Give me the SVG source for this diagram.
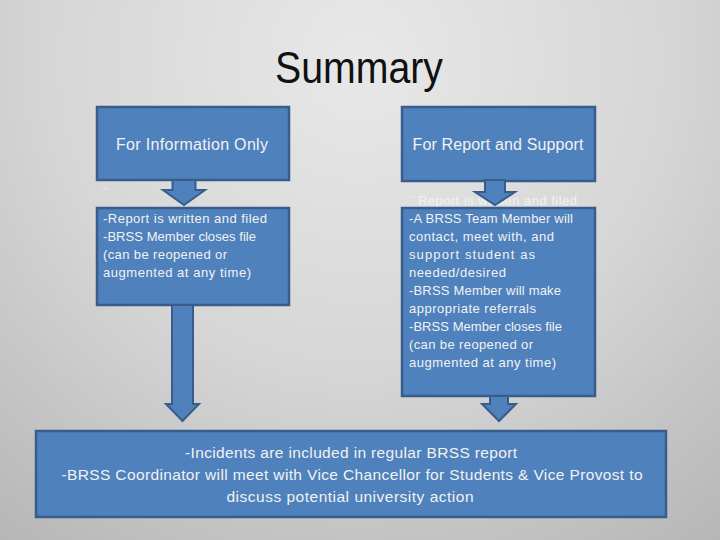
<svg xmlns="http://www.w3.org/2000/svg" width="720" height="540" viewBox="0 0 720 540">
<defs>
<radialGradient id="bg" cx="360" cy="60" r="620" gradientUnits="userSpaceOnUse">
<stop offset="0" stop-color="#e8e8e8"/>
<stop offset="0.5" stop-color="#d6d6d6"/>
<stop offset="1" stop-color="#b4b4b4"/>
</radialGradient>
<style>
.box{fill:#4f81bd;stroke:#385d8a;stroke-width:2.5}
.arr{fill:#4f81bd;stroke:#385d8a;stroke-width:2;stroke-linejoin:miter}
.t{font-family:"Liberation Sans",Arial,sans-serif;fill:#f2f2f2;font-size:13px}
.h{font-family:"Liberation Sans",Arial,sans-serif;fill:#f2f2f2;font-size:16px;text-anchor:middle}
.b{font-family:"Liberation Sans",Arial,sans-serif;fill:#f2f2f2;font-size:15.5px;text-anchor:middle}
</style>
</defs>
<rect x="0" y="0" width="720" height="540" fill="url(#bg)"/>
<text x="359" y="83" font-family="Liberation Sans,Arial,sans-serif" font-size="44" fill="#111" text-anchor="middle" textLength="168" lengthAdjust="spacingAndGlyphs">Summary</text>

<g id="node-info">
<rect class="box" x="97" y="107" width="192" height="73"/>
<text class="h" x="192" y="150" textLength="152">For Information Only</text>
</g>
<g id="node-info-detail">
<text class="t" x="103" y="197">¨</text>
<rect class="box" x="97" y="208" width="192" height="97"/>
<text class="t" x="103" y="223" textLength="164">-Report is written and filed</text>
<text class="t" x="103" y="241" textLength="153">-BRSS Member closes file</text>
<text class="t" x="103" y="259" textLength="124">(can be reopened or</text>
<text class="t" x="103" y="277" textLength="148">augmented at any time)</text>
</g>
<g id="node-support">
<rect class="box" x="402" y="107" width="193" height="74"/>
<text class="h" x="498" y="150" textLength="171">For Report and Support</text>
</g>
<g id="node-support-detail">
<text class="t" x="409" y="205" textLength="168">¨ Report is written and filed</text>
<rect class="box" x="402" y="208" width="193" height="188"/>
<text class="t" x="409" y="223" textLength="164">-A BRSS Team Member will</text>
<text class="t" x="409" y="241" textLength="145">contact, meet with, and</text>
<text class="t" x="409" y="259" textLength="126">support student as</text>
<text class="t" x="409" y="277" textLength="97">needed/desired</text>
<text class="t" x="409" y="295" textLength="152">-BRSS Member will make</text>
<text class="t" x="409" y="313" textLength="127">appropriate referrals</text>
<text class="t" x="409" y="331" textLength="153">-BRSS Member closes file</text>
<text class="t" x="409" y="349" textLength="124">(can be reopened or</text>
<text class="t" x="409" y="367" textLength="147">augmented at any time)</text>
</g>
<g id="node-summary">
<rect class="box" x="36" y="431" width="630" height="86"/>
<text class="b" x="351" y="458" textLength="332">-Incidents are included in regular BRSS report</text>
<text class="b" x="352" y="480" textLength="581">-BRSS Coordinator will meet with Vice Chancellor for Students &amp; Vice Provost to</text>
<text class="b" x="350" y="502" textLength="247">discuss potential university action</text>
</g>

<g id="connectors">
<polygon class="arr" points="172.5,180 195.5,180 195.5,190 205,190 184,205 163,190 172.5,190"/>
<polygon class="arr" points="485,180 505,180 505,192 515,192 495,205 475,192 485,192"/>
<polygon class="arr" points="172,305 193,305 193,404 199,404 182.5,421 166,404 172,404"/>
<polygon class="arr" points="490,396 508,396 508,404 516,404 499,421 482,404 490,404"/>
</g>
</svg>
